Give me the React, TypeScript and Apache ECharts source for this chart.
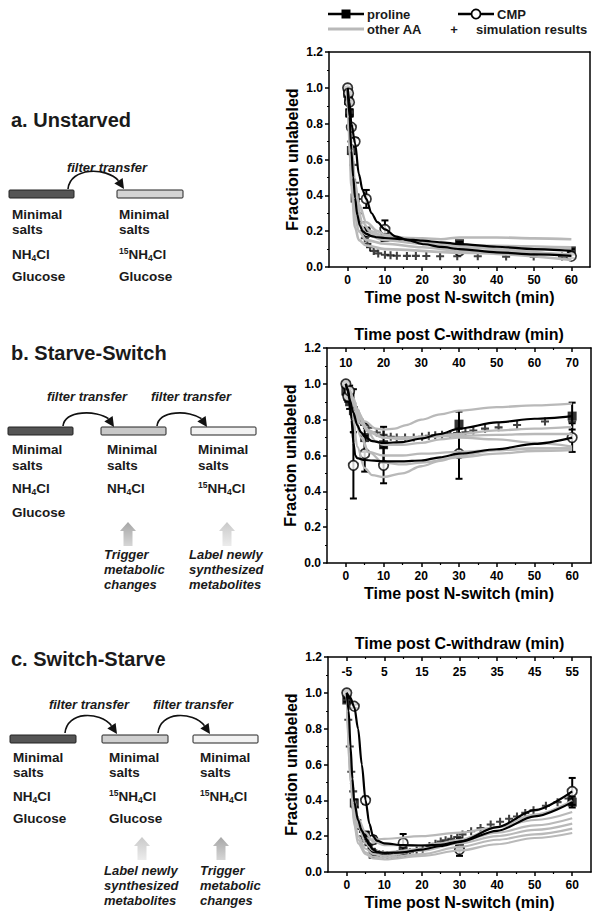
import React, { useEffect, useRef } from 'react';
import * as echarts from 'echarts';

// ---------------- Panel a: Unstarved ----------------
const aTimes = [0, 0.25, 0.5, 1, 2, 5, 10, 30, 60];
const aProline = [0.97, 0.93, 0.86, 0.65, 0.385, 0.195, 0.165, 0.13, 0.09];
const aProlineErr = [0.01, 0.02, 0.02, 0.02, 0.02, 0.025, 0.02, 0.01, 0.01];
const aCmp = [1.0, 0.97, 0.92, 0.78, 0.70, 0.38, 0.21, 0.09, 0.06];
const aCmpErr = [0.005, 0.01, 0.01, 0.01, 0.02, 0.05, 0.05, 0.01, 0.01];
const aProlineFit = [[0, 1.0], [0.5, 0.84], [1, 0.65], [1.5, 0.5], [2, 0.385], [2.6, 0.29], [3.3, 0.23], [4, 0.2], [5, 0.185], [6.4, 0.172], [8, 0.166], [10, 0.162], [15, 0.155], [20, 0.147], [25, 0.138], [30, 0.128], [40, 0.113], [50, 0.1], [60, 0.09]];
const aCmpFit = [[0, 1.0], [0.5, 0.92], [1, 0.8], [2, 0.69], [3, 0.52], [4, 0.43], [5, 0.38], [6.4, 0.3], [8, 0.25], [10, 0.21], [13, 0.17], [16, 0.15], [20.6, 0.127], [25, 0.112], [30, 0.1], [40, 0.082], [50, 0.07], [60, 0.062]];
const aOtherAA = [
  [[0, 1], [1, 0.6], [2, 0.35], [3, 0.25], [5, 0.19], [10, 0.165], [20, 0.16], [25, 0.155], [30, 0.165], [40, 0.165], [50, 0.16], [60, 0.155]],
  [[0, 1], [1, 0.55], [2, 0.32], [3, 0.24], [5, 0.18], [10, 0.15], [20, 0.13], [30, 0.11], [45, 0.1], [60, 0.1]],
  [[0, 1], [1, 0.5], [2, 0.28], [3, 0.2], [5, 0.15], [10, 0.13], [20, 0.11], [30, 0.09], [60, 0.07]],
  [[0, 1], [0.5, 0.7], [1, 0.45], [2, 0.22], [3, 0.15], [5, 0.12], [10, 0.1], [30, 0.08], [60, 0.04]],
  [[0, 1], [1, 0.68], [2, 0.47], [3, 0.35], [5, 0.25], [8, 0.2], [10, 0.18], [20, 0.14], [30, 0.11], [60, 0.06]],
  [[0, 1], [1, 0.6], [2, 0.4], [4, 0.25], [6, 0.2], [10, 0.17], [20, 0.14], [30, 0.12], [60, 0.11]],
];
const aSim = [[0, 1.0], [0.5, 0.85], [1, 0.7], [1.5, 0.57], [2, 0.47], [2.5, 0.38], [3, 0.3], [3.5, 0.25], [4, 0.2], [4.6, 0.16], [5.3, 0.13], [6, 0.11], [7, 0.09], [8.2, 0.076], [10, 0.068], [11.5, 0.065], [13.2, 0.063], [15.9, 0.062], [18.3, 0.062], [21.1, 0.061], [24.8, 0.06], [29.4, 0.06], [34.9, 0.06], [42.5, 0.058], [49.9, 0.058], [57.5, 0.058]];

// ---------------- Panel b: Starve-Switch ----------------
const bTimes = [0, 0.5, 1, 2, 5, 10, 30, 60];
const bProline = [0.96, 0.93, 0.9, 0.85, 0.70, 0.66, 0.775, 0.82];
const bProlineErr = [0.02, 0.03, 0.04, 0.12, 0.08, 0.1, 0.07, 0.075];
const bCmp = [1.0, 0.93, 0.96, 0.545, 0.61, 0.545, 0.61, 0.70];
const bCmpErr = [0.01, 0.02, 0.03, 0.185, 0.1, 0.1, 0.14, 0.08];
const bProlineFit = [[0, 1.0], [0.5, 0.96], [1, 0.91], [2, 0.84], [3, 0.77], [4, 0.73], [5, 0.705], [7, 0.68], [10, 0.67], [15, 0.675], [20, 0.695], [25, 0.72], [30, 0.75], [40, 0.785], [50, 0.805], [60, 0.82]];
const bCmpFit = [[0, 1.0], [0.5, 0.97], [1, 0.92], [1.5, 0.8], [2, 0.67], [2.5, 0.6], [3, 0.585], [5, 0.575], [10, 0.567], [15, 0.567], [20, 0.572], [25, 0.59], [30, 0.61], [40, 0.635], [50, 0.665], [60, 0.70]];
const bOtherAA = [
  [[0, 1], [1, 0.96], [2, 0.9], [3, 0.85], [5, 0.79], [8, 0.75], [10, 0.745], [13, 0.75], [16, 0.77], [20, 0.8], [25, 0.83], [30, 0.85], [40, 0.87], [50, 0.88], [60, 0.89]],
  [[0, 1], [1, 0.93], [2, 0.8], [3, 0.65], [5, 0.53], [7, 0.49], [10, 0.48], [15, 0.5], [20, 0.54], [25, 0.57], [30, 0.6], [40, 0.63], [50, 0.64], [60, 0.64]],
  [[0, 1], [1, 0.95], [2, 0.88], [4, 0.72], [6, 0.62], [10, 0.56], [15, 0.55], [20, 0.56], [30, 0.59], [40, 0.61], [50, 0.625], [60, 0.63]],
  [[0, 1], [1, 0.96], [2, 0.9], [4, 0.8], [6, 0.74], [10, 0.7], [15, 0.69], [20, 0.7], [30, 0.72], [40, 0.74], [50, 0.75], [60, 0.76]],
  [[0, 1], [1, 0.95], [2, 0.88], [4, 0.78], [6, 0.73], [10, 0.7], [15, 0.7], [20, 0.705], [30, 0.71], [40, 0.715], [50, 0.72], [60, 0.72]],
  [[0, 1], [1, 0.96], [2, 0.92], [3, 0.86], [5, 0.76], [8, 0.68], [10, 0.66], [15, 0.66], [20, 0.67], [25, 0.69], [30, 0.7], [40, 0.69], [50, 0.67], [60, 0.65]],
  [[0, 1], [1, 0.95], [2, 0.85], [4, 0.7], [6, 0.62], [10, 0.6], [15, 0.6], [20, 0.61], [30, 0.62], [40, 0.63], [50, 0.64], [60, 0.64]],
];
const bSim = [[0, 1.0], [0.5, 0.97], [1, 0.93], [1.7, 0.89], [2.5, 0.85], [3.7, 0.8], [4.8, 0.77], [6, 0.755], [8.2, 0.728], [10, 0.715], [11.9, 0.705], [13.5, 0.7], [15.7, 0.7], [18, 0.7], [20.2, 0.705], [22, 0.71], [23.7, 0.713], [25.5, 0.716], [27.7, 0.72], [29.5, 0.725], [31.7, 0.73], [33.8, 0.74], [36.9, 0.75], [40.5, 0.757], [45.4, 0.77], [52.8, 0.79], [60, 0.79]];

// ---------------- Panel c: Switch-Starve ----------------
const cTimes = [0, 2, 5, 7, 15, 30, 60];
const cProline = [0.96, 0.385, 0.205, 0.1, 0.115, 0.158, 0.39];
const cProlineErr = [0.01, 0.02, 0.02, 0.02, 0.03, 0.03, 0.03];
const cCmp = [1.0, 0.925, 0.4, 0.18, 0.162, 0.125, 0.45];
const cCmpErr = [0.01, 0.01, 0.02, 0.02, 0.05, 0.035, 0.075];
const cProlineFit = [[0, 1.0], [0.5, 0.9], [1, 0.7], [1.5, 0.52], [2, 0.39], [3, 0.29], [4, 0.23], [5, 0.19], [6, 0.15], [7, 0.125], [8, 0.113], [10, 0.107], [15, 0.11], [20, 0.125], [25, 0.145], [30, 0.168], [40, 0.23], [50, 0.31], [60, 0.39]];
const cCmpFit = [[0, 1.0], [1, 0.97], [2, 0.92], [3, 0.8], [4, 0.6], [5, 0.4], [6, 0.27], [7, 0.2], [8, 0.175], [10, 0.16], [15, 0.15], [20, 0.148], [25, 0.152], [30, 0.17], [40, 0.25], [50, 0.345], [60, 0.45]];
const cOtherAA = [
  [[0, 1], [1, 0.6], [2, 0.35], [3, 0.25], [5, 0.19], [7, 0.18], [10, 0.185], [20, 0.2], [30, 0.22], [40, 0.25], [50, 0.29], [60, 0.335]],
  [[0, 1], [1, 0.55], [2, 0.3], [3, 0.2], [5, 0.13], [7, 0.1], [10, 0.09], [20, 0.12], [30, 0.16], [40, 0.2], [50, 0.235], [60, 0.27]],
  [[0, 1], [1, 0.5], [2, 0.28], [3, 0.18], [5, 0.11], [7, 0.085], [10, 0.08], [20, 0.1], [30, 0.14], [40, 0.18], [50, 0.21], [60, 0.242]],
  [[0, 1], [1, 0.5], [2, 0.26], [3, 0.16], [5, 0.1], [7, 0.075], [10, 0.07], [20, 0.09], [30, 0.12], [40, 0.155], [50, 0.19], [60, 0.218]],
  [[0, 1], [1, 0.6], [2, 0.38], [3, 0.26], [5, 0.16], [7, 0.12], [10, 0.11], [20, 0.13], [30, 0.18], [40, 0.25], [50, 0.32], [60, 0.4]],
  [[0, 1], [1, 0.62], [2, 0.4], [3, 0.3], [5, 0.22], [7, 0.17], [10, 0.15], [20, 0.15], [30, 0.17], [40, 0.22], [50, 0.26], [60, 0.3]],
];
const cSim = [[0, 1.0], [0.4, 0.85], [0.8, 0.7], [1.2, 0.56], [1.7, 0.45], [2.2, 0.36], [2.8, 0.29], [3.5, 0.24], [4.3, 0.2], [5, 0.17], [5.8, 0.15], [6.6, 0.13], [7.5, 0.11], [8.6, 0.1], [9.6, 0.097], [10.8, 0.095], [12, 0.095], [13.5, 0.1], [15, 0.105], [16.8, 0.11], [18.6, 0.12], [20.2, 0.13], [22, 0.145], [23.6, 0.158], [25, 0.17], [26.3, 0.177], [27.8, 0.185], [29.4, 0.195], [30.8, 0.21], [33.1, 0.228], [35.6, 0.246], [38.3, 0.265], [40.8, 0.28], [43.2, 0.297], [45.3, 0.31], [47.5, 0.33], [49.7, 0.345], [53, 0.37], [56.1, 0.39], [59, 0.41]];

// Axis ticks
const nSwitchTicks = [0, 10, 20, 30, 40, 50, 60];
const nSwitchMinor = [5, 15, 25, 35, 45, 55];
const bTopOffset = 10; // C-withdraw = N-switch + 10
const cTopOffset = -5; // C-withdraw = N-switch - 5

const FONT = '"Liberation Sans", Arial, Helvetica, sans-serif';
const PLUS = 'path://M2.6,0H4.4V2.6H7V4.4H4.4V7H2.6V4.4H0V2.6H2.6Z';

const panels = [
  { left: 329, top: 52, width: 261, height: 215, times: aTimes, pro: aProline, proErr: aProlineErr, cmp: aCmp, cmpErr: aCmpErr, proFit: aProlineFit, cmpFit: aCmpFit, grays: aOtherAA, sim: aSim, topOffset: null as number | null, grayW: 2.6 },
  { left: 327, top: 348, width: 264, height: 215, times: bTimes, pro: bProline, proErr: bProlineErr, cmp: bCmp, cmpErr: bCmpErr, proFit: bProlineFit, cmpFit: bCmpFit, grays: bOtherAA, sim: bSim, topOffset: bTopOffset as number | null, grayW: 2.3 },
  { left: 328, top: 657, width: 263, height: 215, times: cTimes, pro: cProline, proErr: cProlineErr, cmp: cCmp, cmpErr: cCmpErr, proFit: cProlineFit, cmpFit: cCmpFit, grays: cOtherAA, sim: cSim, topOffset: cTopOffset as number | null, grayW: 2.1 },
];

const axisLineStyle = { color: '#000', width: 1.5 };
const tickLabel = { color: '#000', fontFamily: FONT, fontWeight: 'bold' as const, fontSize: 12 };

function errorRender(params: any, api: any) {
  const t = api.value(0), v = api.value(1), e = api.value(2);
  const lo = api.coord([t, v - e]);
  const hi = api.coord([t, v + e]);
  const w = 3.5;
  const st = { stroke: '#000', lineWidth: 2 };
  return {
    type: 'group',
    children: [
      { type: 'line', shape: { x1: lo[0], y1: lo[1], x2: hi[0], y2: hi[1] }, style: st },
      { type: 'line', shape: { x1: hi[0] - w, y1: hi[1], x2: hi[0] + w, y2: hi[1] }, style: st },
      { type: 'line', shape: { x1: lo[0] - w, y1: lo[1], x2: lo[0] + w, y2: lo[1] }, style: st },
    ],
  };
}

function buildOption() {
  const grid: any[] = [];
  const xAxis: any[] = [];
  const yAxis: any[] = [];
  const series: any[] = [];

  panels.forEach((p, i) => {
    grid.push({ left: p.left, top: p.top, width: p.width, height: p.height, containLabel: false });
    xAxis.push({
      gridIndex: i, type: 'value', min: -5, max: 65, position: 'bottom',
      axisLine: { show: true, onZero: false, lineStyle: axisLineStyle },
      axisTick: { show: true, customValues: nSwitchTicks, length: 4, lineStyle: axisLineStyle },
      axisLabel: { show: true, customValues: nSwitchTicks, margin: 7, ...tickLabel },
      splitLine: { show: false },
      name: 'Time post N-switch (min)', nameLocation: 'middle', nameGap: 22,
      nameTextStyle: { color: '#000', fontFamily: FONT, fontWeight: 'bold', fontSize: 16 },
    });
    xAxis.push({
      gridIndex: i, type: 'value', min: -5, max: 65, position: 'bottom',
      axisLine: { show: false, onZero: false },
      axisTick: { show: true, customValues: nSwitchMinor, length: 2, lineStyle: { color: '#000', width: 1.2 } },
      axisLabel: { show: false }, splitLine: { show: false },
    });
    const off = p.topOffset;
    xAxis.push({
      gridIndex: i, type: 'value', min: -5, max: 65, position: 'top',
      axisLine: { show: true, onZero: false, lineStyle: axisLineStyle },
      axisTick: { show: off !== null, inside: true, customValues: nSwitchTicks, length: 4, lineStyle: axisLineStyle },
      axisLabel: {
        show: off !== null, inside: true, customValues: nSwitchTicks, margin: 9, ...tickLabel,
        formatter: (v: number) => String(v + (off ?? 0)),
      },
      splitLine: { show: false },
      name: off !== null ? 'Time post C-withdraw (min)' : '', nameLocation: 'middle', nameGap: 6,
      nameTextStyle: { color: '#000', fontFamily: FONT, fontWeight: 'bold', fontSize: 16 },
    });
    xAxis.push({
      gridIndex: i, type: 'value', min: -5, max: 65, position: 'top',
      axisLine: { show: false, onZero: false },
      axisTick: { show: off !== null, inside: true, customValues: nSwitchMinor, length: 2, lineStyle: { color: '#000', width: 1.2 } },
      axisLabel: { show: false }, splitLine: { show: false },
    });
    yAxis.push({
      gridIndex: i, type: 'value', min: 0, max: 1.2, interval: 0.2, position: 'left',
      axisLine: { show: true, onZero: false, lineStyle: axisLineStyle },
      axisTick: { show: true, length: 4, lineStyle: axisLineStyle },
      minorTick: { show: true, splitNumber: 2, length: 2, lineStyle: { color: '#000', width: 1.2 } },
      axisLabel: { margin: 6, ...tickLabel, formatter: (v: number) => v.toFixed(1) },
      splitLine: { show: false },
      name: 'Fraction unlabeled', nameLocation: 'middle', nameGap: 29, nameRotate: 90,
      nameTextStyle: { color: '#000', fontFamily: FONT, fontWeight: 'bold', fontSize: 16 },
    });
    yAxis.push({
      gridIndex: i, type: 'value', min: 0, max: 1.2, position: 'right',
      axisLine: { show: true, onZero: false, lineStyle: axisLineStyle },
      axisTick: { show: false }, axisLabel: { show: false }, splitLine: { show: false },
    });

    const xi = 4 * i, yi = 2 * i;
    p.grays.forEach((g) => {
      series.push({
        type: 'line', xAxisIndex: xi, yAxisIndex: yi, data: g, smooth: 0.35, smoothMonotone: 'x',
        showSymbol: false, silent: true, lineStyle: { color: '#b9b9b9', width: p.grayW },
      });
    });
    series.push({
      type: 'scatter', xAxisIndex: xi, yAxisIndex: yi, data: p.sim, symbol: PLUS, symbolSize: 8,
      itemStyle: { color: '#111' }, silent: true,
    });
    series.push({
      type: 'line', xAxisIndex: xi, yAxisIndex: yi, data: p.proFit, smooth: 0.3, smoothMonotone: 'x',
      showSymbol: false, lineStyle: { color: '#000', width: 2.2 },
    });
    series.push({
      type: 'line', xAxisIndex: xi, yAxisIndex: yi, data: p.cmpFit, smooth: 0.3, smoothMonotone: 'x',
      showSymbol: false, lineStyle: { color: '#000', width: 2.2 },
    });
    series.push({
      type: 'custom', xAxisIndex: xi, yAxisIndex: yi, renderItem: errorRender,
      data: p.times.map((t, k) => [t, p.pro[k], p.proErr[k]]), encode: { x: 0, y: 1 },
    });
    series.push({
      type: 'custom', xAxisIndex: xi, yAxisIndex: yi, renderItem: errorRender,
      data: p.times.map((t, k) => [t, p.cmp[k], p.cmpErr[k]]), encode: { x: 0, y: 1 },
    });
    series.push({
      type: 'scatter', xAxisIndex: xi, yAxisIndex: yi, data: p.times.map((t, k) => [t, p.pro[k]]),
      symbol: 'rect', symbolSize: 9, itemStyle: { color: '#000' },
    });
    series.push({
      type: 'scatter', xAxisIndex: xi, yAxisIndex: yi, data: p.times.map((t, k) => [t, p.cmp[k]]),
      symbol: 'circle', symbolSize: 9.5, itemStyle: { color: '#fff', borderColor: '#000', borderWidth: 1.7 },
    });
  });

  // ---------- graphics: legend + schematic ----------
  const g: any[] = [];
  const txt = (x: number, y: number, text: string, size = 13.5, italic = false, align = 'left') => ({
    type: 'text', x, y,
    style: { text, fontFamily: FONT, fontWeight: 'bold', fontStyle: italic ? 'italic' : 'normal', fontSize: size, fill: '#1a1a1a', align, verticalAlign: 'middle' },
  });
  const chem = (x: number, y: number, iso: boolean) => ({
    type: 'text', x, y,
    style: {
      text: (iso ? '{sup|15}' : '') + '{b|NH}{sub|4}{b|Cl}',
      verticalAlign: 'middle',
      rich: {
        b: { fontFamily: FONT, fontWeight: 'bold', fontSize: 13.5, fill: '#1a1a1a', lineHeight: 16 },
        sup: { fontFamily: FONT, fontWeight: 'bold', fontSize: 8.5, fill: '#1a1a1a', lineHeight: 16, verticalAlign: 'top' },
        sub: { fontFamily: FONT, fontWeight: 'bold', fontSize: 8.5, fill: '#1a1a1a', lineHeight: 16, verticalAlign: 'bottom' },
      },
    },
  });
  const dish = (x: number, y: number, w: number, fill: string) => ({
    type: 'rect', shape: { x, y, width: w, height: 8, r: 1 }, style: { fill, stroke: '#222', lineWidth: 1 },
  });
  const arc = (sx: number, sy: number, tx: number, ty: number, cp: number) => {
    const d = [0.55, 0.83];
    const bx = tx - 10 * d[0], by = ty - 10 * d[1];
    const px = -d[1], py = d[0];
    return [
      { type: 'bezierCurve', shape: { x1: sx, y1: sy, cpx1: sx + 2, cpy1: cp, cpx2: bx - 12, cpy2: cp, x2: bx, y2: by }, style: { stroke: '#111', lineWidth: 1.6, fill: null } },
      { type: 'polygon', shape: { points: [[tx, ty], [bx + 5 * px, by + 5 * py], [bx - 5 * px, by - 5 * py]] }, style: { fill: '#111' } },
    ];
  };
  const upArrow = (cx: number, top: number, bottom: number, dark: boolean) => ({
    type: 'polygon',
    shape: { points: [[cx, top], [cx + 8, top + 9], [cx + 4.5, top + 9], [cx + 4.5, bottom], [cx - 4.5, bottom], [cx - 4.5, top + 9], [cx - 8, top + 9]] },
    style: {
      fill: new echarts.graphic.LinearGradient(0, 0, 0, 1, [
        { offset: 0, color: dark ? '#a6a6a6' : '#c9c9c9' },
        { offset: 1, color: dark ? '#d6d6d6' : '#ececec' },
      ]),
    },
  });
  const column = (x: number, rows: number[], chemIso: boolean | null, glucose: boolean) => {
    const out: any[] = [txt(x, rows[0], 'Minimal'), txt(x, rows[1], 'salts')];
    if (chemIso !== null) out.push(chem(x, rows[2], chemIso));
    if (glucose) out.push(txt(x, rows[3], 'Glucose'));
    return out;
  };

  // legend
  g.push({ type: 'line', shape: { x1: 328, y1: 14, x2: 364, y2: 14 }, style: { stroke: '#000', lineWidth: 2.5 } });
  g.push({ type: 'rect', shape: { x: 341.5, y: 9.5, width: 9, height: 9 }, style: { fill: '#000' } });
  g.push(txt(367, 14, 'proline', 13));
  g.push({ type: 'line', shape: { x1: 458, y1: 14, x2: 494, y2: 14 }, style: { stroke: '#000', lineWidth: 2.5 } });
  g.push({ type: 'circle', shape: { cx: 476, cy: 14, r: 4.5 }, style: { fill: '#fff', stroke: '#000', lineWidth: 1.7 } });
  g.push(txt(497, 14, 'CMP', 13));
  g.push({ type: 'line', shape: { x1: 328, y1: 29, x2: 364, y2: 29 }, style: { stroke: '#b9b9b9', lineWidth: 3 } });
  g.push(txt(367, 29, 'other AA', 13));
  g.push(txt(454, 29, '+', 13, false, 'center'));
  g.push(txt(476, 29, 'simulation results', 13));

  // panel a
  g.push(txt(11, 120, 'a. Unstarved', 20));
  g.push(txt(107, 167, 'filter transfer', 13, true, 'center'));
  g.push(...arc(68, 189, 124, 189, 167));
  g.push(dish(9, 190, 65, '#555'));
  g.push(dish(117, 190, 66, '#d4d4d4'));
  g.push(...column(12, [214, 229, 254, 276], false, true));
  g.push(...column(119, [214, 229, 254, 276], true, true));

  // panel b
  g.push(txt(11, 353, 'b. Starve-Switch', 20));
  g.push(txt(87, 396, 'filter transfer', 13, true, 'center'));
  g.push(txt(191, 396, 'filter transfer', 13, true, 'center'));
  g.push(...arc(63, 426, 114, 427, 410));
  g.push(...arc(157, 426, 207, 427, 410));
  g.push(dish(8, 427, 65, '#555'));
  g.push(dish(101, 427, 65, '#c8c8c8'));
  g.push(dish(191, 427, 65, '#f2f2f2'));
  g.push(...column(12, [449, 465, 488, 512], false, true));
  g.push(...column(107, [449, 465, 488, 512], false, false));
  g.push(...column(198, [449, 465, 488, 512], true, false));
  g.push(upArrow(128, 522, 546, true));
  g.push(upArrow(227, 522, 546, false));
  g.push(txt(104, 554, 'Trigger', 13, true));
  g.push(txt(104, 569, 'metabolic', 13, true));
  g.push(txt(104, 584, 'changes', 13, true));
  g.push(txt(189, 554, 'Label newly', 13, true));
  g.push(txt(189, 569, 'synthesized', 13, true));
  g.push(txt(189, 584, 'metabolites', 13, true));

  // panel c
  g.push(txt(11, 659, 'c. Switch-Starve', 20));
  g.push(txt(89, 704, 'filter transfer', 13, true, 'center'));
  g.push(txt(193, 704, 'filter transfer', 13, true, 'center'));
  g.push(...arc(65, 733, 117, 734, 711));
  g.push(...arc(158, 733, 210, 734, 711));
  g.push(dish(10, 735, 66, '#555'));
  g.push(dish(102, 735, 66, '#cfcfcf'));
  g.push(dish(193, 735, 65, '#f2f2f2'));
  g.push(...column(13, [757, 772, 796, 818], false, true));
  g.push(...column(109, [757, 772, 796, 818], true, true));
  g.push(...column(200, [757, 772, 796, 818], true, false));
  g.push(upArrow(142, 837, 860, false));
  g.push(upArrow(221, 837, 860, true));
  g.push(txt(104, 870, 'Label newly', 13, true));
  g.push(txt(104, 885, 'synthesized', 13, true));
  g.push(txt(104, 900, 'metabolites', 13, true));
  g.push(txt(200, 870, 'Trigger', 13, true));
  g.push(txt(200, 885, 'metabolic', 13, true));
  g.push(txt(200, 900, 'changes', 13, true));

  return {
    animation: false,
    backgroundColor: '#fff',
    grid, xAxis, yAxis, series,
    graphic: { elements: g },
  };
}

export default function App() {
  const ref = useRef<HTMLDivElement>(null);
  useEffect(() => {
    if (!ref.current) return;
    const chart = echarts.init(ref.current, undefined, { renderer: 'svg' });
    chart.setOption(buildOption() as any);
    return () => chart.dispose();
  }, []);
  return <div ref={ref} style={{ position: 'absolute', left: 0, top: 0, width: 600, height: 916, background: '#fff' }} />;
}
